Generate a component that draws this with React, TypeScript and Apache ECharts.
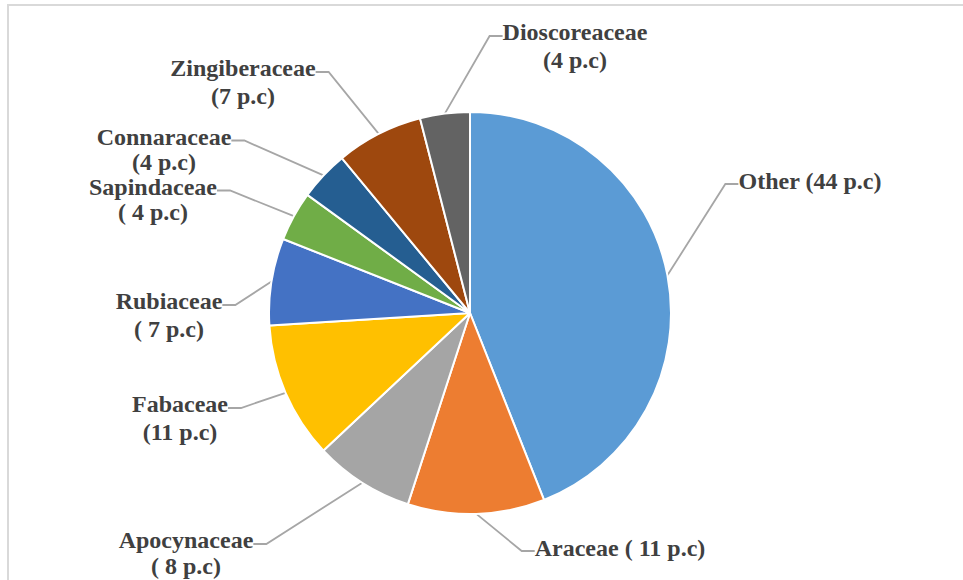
import React, { useEffect, useRef } from 'react';
import * as echarts from 'echarts';

// Data
const families = ['Other', 'Araceae', 'Apocynaceae', 'Fabaceae', 'Rubiaceae', 'Sapindaceae', 'Connaraceae', 'Zingiberaceae', 'Dioscoreaceae'];
const percents = [44, 11, 8, 11, 7, 4, 4, 7, 4];
const labelTexts = [
  'Other (44 p.c)',
  'Araceae ( 11 p.c)',
  'Apocynaceae\n( 8 p.c)',
  'Fabaceae\n(11 p.c)',
  'Rubiaceae\n( 7 p.c)',
  'Sapindaceae\n( 4 p.c)',
  'Connaraceae\n(4 p.c)',
  'Zingiberaceae\n(7 p.c)',
  'Dioscoreaceae\n(4 p.c)',
];
const colors = ['#5B9BD5', '#ED7D31', '#A5A5A5', '#FFC000', '#4472C4', '#70AD47', '#255E91', '#9E480E', '#636363'];

// Label placement: center x, top y of the text block, line height
const labelPlacement: [number, number, number][] = [
  [810, 167, 28],
  [620, 534, 28],
  [186, 527, 26],
  [180, 390, 28],
  [169, 287, 28],
  [153, 174, 25],
  [164, 124, 25],
  [243, 54, 28],
  [575, 18, 28],
];

export default function App() {
  const ref = useRef<HTMLDivElement>(null);
  useEffect(() => {
    if (!ref.current) return;
    const chart = echarts.init(ref.current, undefined, { renderer: 'svg' });
    const padFor = (i: number) => {
      const lh = labelPlacement[i][2];
      const twoLine = labelTexts[i].indexOf('\n') >= 0;
      return twoLine ? [lh - 8, 0, 0, 0] : [0, 0, 6, 0];
    };
    chart.setOption({
      animation: false,
      backgroundColor: '#ffffff',
      graphic: [
        {
          type: 'rect',
          shape: { x: 8, y: 5, width: 1000, height: 700 },
          style: { fill: 'none', stroke: '#d9d9d9', lineWidth: 2 },
          silent: true,
        },
      ],
      series: [
        {
          type: 'pie',
          center: [470, 313],
          radius: 201,
          startAngle: 90,
          clockwise: true,
          avoidLabelOverlap: false,
          itemStyle: { borderColor: '#ffffff', borderWidth: 2 },
          label: {
            show: true,
            position: 'outside',
            formatter: (p: any) => labelTexts[p.dataIndex],
            fontFamily: 'Liberation Serif',
            fontWeight: 'bold',
            fontSize: 24,
            color: '#404040',
          },
          labelLine: {
            show: true,
            length: 20,
            length2: 13,
            lineStyle: { color: '#a6a6a6', width: 1.8 },
          },
          labelLayout: (params: any) => {
            const i = params.dataIndex;
            const pos = labelPlacement[i];
            const pad = padFor(i);
            return { x: pos[0], y: pos[1] - pad[0], align: 'center', verticalAlign: 'top' };
          },
          data: families.map((name, i) => ({
            name,
            value: percents[i],
            itemStyle: { color: colors[i] },
            label: { lineHeight: labelPlacement[i][2], padding: padFor(i) },
          })),
        },
      ],
    });
    return () => chart.dispose();
  }, []);
  return (
    <div
      ref={ref}
      style={{ position: 'absolute', left: 0, top: 0, width: 963, height: 580 }}
    />
  );
}
